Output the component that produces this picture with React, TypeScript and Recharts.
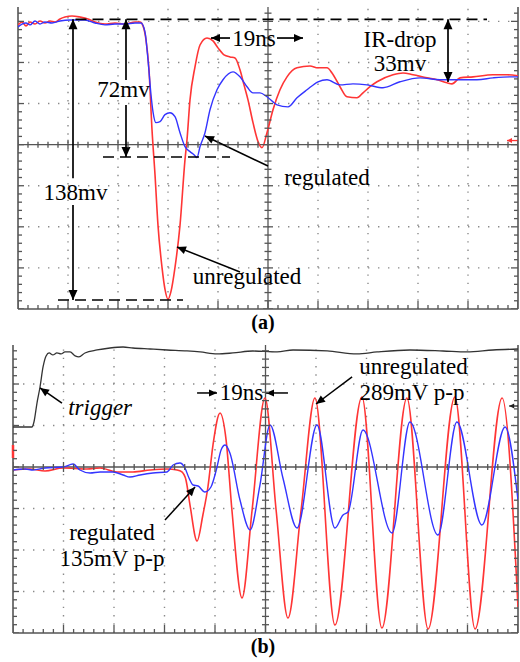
import React from 'react';
import { ComposedChart, Line, Scatter, XAxis, YAxis, ReferenceLine, ReferenceDot } from 'recharts';

// ---------- Panel (a) data: time in ns (20 ns/div), voltage in mV (20 mV/div) ----------
const unregulatedA = [
  { t: -100, v: 58.3 }, { t: -98.4, v: 59.7 }, { t: -96.8, v: 57.8 }, { t: -95.2, v: 59.7 }, { t: -93.2, v: 58.7 },
  { t: -91.2, v: 60.2 }, { t: -89.2, v: 59.2 }, { t: -87.2, v: 60.2 }, { t: -85.2, v: 59.7 }, { t: -83.2, v: 61.2 },
  { t: -81.2, v: 62.1 }, { t: -78.4, v: 62.6 }, { t: -75.2, v: 62.1 }, { t: -72, v: 61.2 }, { t: -69.2, v: 59.7 },
  { t: -65.2, v: 58.7 }, { t: -61.2, v: 59.2 }, { t: -57.2, v: 58.7 }, { t: -53.2, v: 59.7 }, { t: -51.2, v: 59.7 },
  { t: -50, v: 57.8 }, { t: -48.8, v: 51.0 }, { t: -47.6, v: 36.4 }, { t: -46.4, v: 7.3 }, { t: -45.2, v: -14.6 },
  { t: -44, v: -39.3 }, { t: -42.4, v: -59.7 }, { t: -41.2, v: -70.4 }, { t: -40, v: -75.2 }, { t: -38.8, v: -71.4 },
  { t: -37.2, v: -59.7 }, { t: -35.2, v: -39.3 }, { t: -33.2, v: -7.3 }, { t: -32.4, v: 2.4 }, { t: -31.2, v: 21.8 },
  { t: -29.2, v: 37.9 }, { t: -27.2, v: 48.5 }, { t: -24.4, v: 51.9 }, { t: -22, v: 50.5 }, { t: -20, v: 47.1 },
  { t: -17.6, v: 43.7 }, { t: -15.2, v: 42.7 }, { t: -13.2, v: 42.2 }, { t: -11.2, v: 36.4 }, { t: -9.6, v: 29.1 },
  { t: -8, v: 21.8 }, { t: -6, v: 10.7 }, { t: -4, v: 1.5 }, { t: -2.4, v: -1.5 }, { t: -0.4, v: 5.8 },
  { t: 2, v: 17.0 }, { t: 4.8, v: 26.7 }, { t: 7.6, v: 33.0 }, { t: 11.6, v: 37.4 }, { t: 16.8, v: 38.3 },
  { t: 20, v: 37.4 }, { t: 23.6, v: 37.4 }, { t: 25.6, v: 34.9 }, { t: 28.8, v: 28.2 }, { t: 31.6, v: 23.3 },
  { t: 35.6, v: 22.8 }, { t: 38, v: 25.2 }, { t: 40.8, v: 28.2 }, { t: 43.6, v: 30.6 }, { t: 50, v: 34.0 },
  { t: 54, v: 34.9 }, { t: 58, v: 34.0 }, { t: 63.6, v: 32.5 }, { t: 67.6, v: 31.6 }, { t: 71.6, v: 30.1 },
  { t: 73.6, v: 29.6 }, { t: 76.8, v: 32.5 }, { t: 82, v: 33.0 }, { t: 90, v: 34.0 }, { t: 95.6, v: 34.0 },
  { t: 100, v: 33.5 },
];

const regulatedA = [
  { t: -100, v: 57.3 }, { t: -98.4, v: 58.7 }, { t: -96.8, v: 59.2 }, { t: -95.2, v: 58.3 }, { t: -93.2, v: 60.2 },
  { t: -91.2, v: 58.7 }, { t: -89.2, v: 59.7 }, { t: -86.4, v: 59.2 }, { t: -83.2, v: 60.2 }, { t: -79.2, v: 60.7 },
  { t: -73.2, v: 60.7 }, { t: -69.2, v: 59.2 }, { t: -65.2, v: 58.3 }, { t: -61.2, v: 58.7 }, { t: -57.2, v: 58.7 },
  { t: -53.2, v: 59.2 }, { t: -50.8, v: 59.2 }, { t: -49.2, v: 54.8 }, { t: -48, v: 41.3 }, { t: -46.8, v: 24.3 },
  { t: -46, v: 16.0 }, { t: -44.8, v: 10.7 }, { t: -43.2, v: 11.2 }, { t: -41.2, v: 14.6 }, { t: -39.2, v: 15.5 },
  { t: -37.2, v: 13.6 }, { t: -35.2, v: 5.8 }, { t: -33.2, v: -1.0 }, { t: -31.2, v: -3.4 }, { t: -29.6, v: -4.9 },
  { t: -28.4, v: -6.3 }, { t: -27.2, v: -1.0 }, { t: -25.2, v: 5.8 }, { t: -23.2, v: 17.0 }, { t: -20.4, v: 26.7 },
  { t: -18, v: 31.6 }, { t: -14, v: 35.4 }, { t: -11.2, v: 33.0 }, { t: -8.4, v: 28.2 }, { t: -6, v: 25.2 },
  { t: -3.2, v: 25.2 }, { t: -0.4, v: 23.3 }, { t: 3.6, v: 19.4 }, { t: 8, v: 18.4 }, { t: 11.6, v: 22.8 },
  { t: 15.6, v: 26.7 }, { t: 20, v: 30.6 }, { t: 23.6, v: 31.6 }, { t: 28.8, v: 29.1 }, { t: 34, v: 29.6 },
  { t: 39.6, v: 29.1 }, { t: 46, v: 27.7 }, { t: 52.8, v: 30.6 }, { t: 60.8, v: 32.5 }, { t: 68.8, v: 31.6 },
  { t: 76.8, v: 31.6 }, { t: 83.6, v: 31.6 }, { t: 90, v: 32.5 }, { t: 96.8, v: 33.0 }, { t: 100, v: 33.0 },
];

// ---------- Panel (b) data: time in ns (20 ns/div), voltage in mV (50 mV/div) ----------
const triggerB = [
  { t: -100, v: 48.2 }, { t: -92.5, v: 48.2 }, { t: -91.7, v: 54.2 }, { t: -90.5, v: 77.1 }, { t: -89.3, v: 96.4 },
  { t: -88.1, v: 120.5 }, { t: -86.9, v: 133.8 }, { t: -85.7, v: 137.4 }, { t: -84.2, v: 135 }, { t: -82.6, v: 137.4 },
  { t: -81, v: 136.2 }, { t: -79.4, v: 138.6 }, { t: -77.4, v: 138.6 }, { t: -75.4, v: 133.8 }, { t: -73.9, v: 132.6 },
  { t: -71.5, v: 137.4 }, { t: -66.7, v: 141 }, { t: -61.6, v: 143.4 }, { t: -56.4, v: 144.6 }, { t: -52.5, v: 143.4 },
  { t: -45.7, v: 142.2 }, { t: -39, v: 141 }, { t: -31.1, v: 139.8 }, { t: -25.9, v: 138.6 }, { t: -19.2, v: 136.2 },
  { t: -12.9, v: 137.4 }, { t: -5, v: 139.8 }, { t: 4.6, v: 138.6 }, { t: 10.9, v: 141 }, { t: 24.4, v: 139.8 },
  { t: 36.2, v: 136.2 }, { t: 44.2, v: 138.6 }, { t: 57.2, v: 141 }, { t: 70.3, v: 139.8 }, { t: 79.8, v: 138.6 },
  { t: 90.1, v: 141 }, { t: 100, v: 142.2 },
];

const unregulatedB = [
  { t: -100, v: -3.6 }, { t: -93.3, v: -2.4 }, { t: -87.3, v: -4.8 }, { t: -80.2, v: -1.2 }, { t: -70.7, v: -2.4 },
  { t: -65.5, v: -1.2 }, { t: -58.8, v: -6.0 }, { t: -52.5, v: -6.0 }, { t: -45.7, v: -3.6 }, { t: -39, v: -2.4 },
  { t: -35, v: -3.6 }, { t: -33.1, v: -6.0 }, { t: -31.5, v: -15.7 }, { t: -29.9, v: -45.8 }, { t: -27.1, v: -89.2 },
  { t: -24.8, v: -57.8 }, { t: -22.8, v: -24.1 }, { t: -20.8, v: 26.5 }, { t: -18, v: 65.1 }, { t: -15.6, v: 32.5 },
  { t: -13.3, v: -51.8 }, { t: -9.3, v: -157.9 }, { t: -5.3, v: -51.8 }, { t: -0.2, v: 83.1 }, { t: 4.2, v: -51.8 },
  { t: 8.9, v: -182 }, { t: 14.1, v: -51.8 }, { t: 19.6, v: 83.1 }, { t: 27.5, v: -190.4 }, { t: 38.2, v: 84.4 },
  { t: 46.1, v: -194 }, { t: 56, v: 83.1 }, { t: 64.4, v: -195.2 }, { t: 75, v: 84.4 }, { t: 83, v: -195.2 },
  { t: 93.7, v: 83.1 }, { t: 100, v: -168.7 },
];

const regulatedB = [
  { t: -100, v: -3.6 }, { t: -95.2, v: -2.4 }, { t: -92.1, v: -3.6 }, { t: -87.3, v: -1.2 }, { t: -80.2, v: 0 },
  { t: -76.2, v: 3.6 }, { t: -73.5, v: -3.6 }, { t: -69.5, v: -7.2 }, { t: -65.5, v: -6.0 }, { t: -60.4, v: -6.0 },
  { t: -56.4, v: -9.6 }, { t: -53.7, v: -12.1 }, { t: -49.7, v: -9.6 }, { t: -44.6, v: -7.2 }, { t: -39, v: -6.0 },
  { t: -36.6, v: 2.4 }, { t: -33.9, v: 4.8 }, { t: -31.9, v: -1.2 }, { t: -30.3, v: -13.3 }, { t: -28.7, v: -21.7 },
  { t: -26.7, v: -22.9 }, { t: -24, v: -30.1 }, { t: -21.6, v: -24.1 }, { t: -19.2, v: 0 }, { t: -17.6, v: 20.5 },
  { t: -16, v: 26.5 }, { t: -14.1, v: 16.9 }, { t: -10.1, v: -39.8 }, { t: -6.1, v: -75.9 }, { t: -2.2, v: -21.7 },
  { t: 1.8, v: 50.6 }, { t: 6.9, v: -13.3 }, { t: 12.5, v: -73.5 }, { t: 20.4, v: 50.6 }, { t: 27.5, v: -73.5 },
  { t: 30.7, v: -57.8 }, { t: 32.7, v: -54.2 }, { t: 38.6, v: 44.6 }, { t: 50.1, v: -79.5 }, { t: 57.2, v: 54.2 },
  { t: 68.3, v: -81.9 }, { t: 75.8, v: 54.2 }, { t: 85.7, v: -69.9 }, { t: 94.9, v: 48.2 }, { t: 100, v: -39.8 },
];

// ---------- grid definitions ----------
const gridTimes = [-80, -60, -40, -20, 20, 40, 60, 80];
const gridVoltsA = [-60, -40, -20, 20, 40, 60];
const gridVoltsB = [-150, -100, -50, 50, 100];

const FONT = "'Liberation Serif','Times New Roman',Times,serif";
const RED = '#ff3535';
const BLUE = '#3434ff';
const AXIS = '#555';
const DOT = '#8a8a8a';

type Mark = { t: number; v: number; k: string; m: boolean };

function frameMarks(yMin: number, yMax: number, yMinor: number, yMajor: number): Mark[] {
  const marks: Mark[] = [];
  for (let i = 0; i <= 50; i++) {
    const t = -100 + 4 * i;
    const m = i % 5 === 0;
    marks.push({ t, v: yMin, k: 'B', m });
    marks.push({ t, v: 0, k: 'H', m });
  }
  for (let i = 0; ; i++) {
    const v = yMin + yMinor * i;
    if (v > yMax + 1e-6) break;
    const m = Math.abs(v / yMajor - Math.round(v / yMajor)) < 1e-6;
    marks.push({ t: -100, v, k: 'L', m }, { t: 100, v, k: 'R', m }, { t: 0, v, k: 'V', m });
  }
  return marks;
}

const TickMark = (p: any) => {
  const { cx, cy, payload } = p;
  if (cx == null || cy == null || !payload) return <g />;
  const big = payload.m;
  const s = { stroke: AXIS, strokeWidth: 1.3 };
  switch (payload.k) {
    case 'L':
      return <line x1={cx} y1={cy} x2={cx + (big ? 6 : 4)} y2={cy} {...s} />;
    case 'R':
      return <line x1={cx} y1={cy} x2={cx - (big ? 7 : 4)} y2={cy} {...s} />;
    case 'B':
      return <line x1={cx} y1={cy} x2={cx} y2={cy - (big ? 8 : 4)} {...s} />;
    case 'H':
      return <line x1={cx} y1={cy - (big ? 5 : 3)} x2={cx} y2={cy + (big ? 5 : 3)} {...s} />;
    default:
      return <line x1={cx - (big ? 5 : 3.5)} y1={cy} x2={cx + (big ? 5 : 3.5)} y2={cy} {...s} />;
  }
};

const headPath = (xa: number, ya: number, xb: number, yb: number, len: number, wid: number) => {
  const dx = xb - xa;
  const dy = yb - ya;
  const L = Math.hypot(dx, dy) || 1;
  const ux = dx / L;
  const uy = dy / L;
  const bx = xb - ux * len;
  const by = yb - uy * len;
  return `M${xb},${yb} L${bx - uy * wid},${by + ux * wid} L${bx + uy * wid},${by - ux * wid} Z`;
};

const arrow = (both: boolean, len = 10, wid = 4.5, color = '#000', w = 1.7) => (p: any) => {
  const { x1, y1, x2, y2 } = p;
  if ([x1, y1, x2, y2].some((n) => n == null || isNaN(n))) return <g />;
  return (
    <g>
      <line x1={x1} y1={y1} x2={x2} y2={y2} stroke={color} strokeWidth={w} />
      <path d={headPath(x1, y1, x2, y2, len, wid)} fill={color} />
      {both && <path d={headPath(x2, y2, x1, y1, len, wid)} fill={color} />}
    </g>
  );
};

const text = (s: string, italic = false, size = 23) => (p: any) => (
  <text
    x={p.cx}
    y={p.cy}
    textAnchor="middle"
    dominantBaseline="central"
    fontFamily={FONT}
    fontSize={size}
    fontStyle={italic ? 'italic' : 'normal'}
    fill="#000"
  >
    {s}
  </text>
);

function Frame(yMin: number, yMax: number, gridVolts: number[]) {
  return [
    ...gridTimes.map((t) => (
      <ReferenceLine key={'gx' + t} x={t} stroke={DOT} strokeWidth={1.4} strokeDasharray="1.4 6.9" />
    )),
    ...gridVolts.map((v) => (
      <ReferenceLine key={'gy' + v} y={v} stroke={DOT} strokeWidth={1.4} strokeDasharray="1.4 8.6" />
    )),
    <ReferenceLine key="ax0" y={0} stroke={AXIS} strokeWidth={1.3} />,
    <ReferenceLine key="ay0" x={0} stroke={AXIS} strokeWidth={1.3} />,
    <ReferenceLine key="bl" x={-100} stroke={AXIS} strokeWidth={1.6} />,
    <ReferenceLine key="br" x={100} stroke={AXIS} strokeWidth={1.6} />,
    <ReferenceLine key="bb" y={yMin} stroke={AXIS} strokeWidth={1.6} />,
  ];
}

const marksA = frameMarks(-80, 67, 4, 20);
const marksB = frameMarks(-200, 147, 10, 50);

export default function App() {
  return (
    <div style={{ position: 'absolute', left: 0, top: 0, width: 520, height: 662, background: '#fff', overflow: 'hidden' }}>
      <div style={{ position: 'absolute', left: 0, top: 0 }}>
        <ComposedChart width={520} height={318} margin={{ top: 7, right: 2, bottom: 9, left: 18 }}>
          <XAxis type="number" dataKey="t" domain={[-100, 100]} allowDataOverflow hide />
          <YAxis type="number" dataKey="v" domain={[-80, 67]} allowDataOverflow hide />
          {Frame(-80, 67, gridVoltsA)}
          <Scatter data={marksA} dataKey="v" shape={TickMark} isAnimationActive={false} />
          <Line data={unregulatedA} dataKey="v" type="monotone" stroke={RED} strokeWidth={1.6} dot={false} isAnimationActive={false} />
          <Line data={regulatedA} dataKey="v" type="monotone" stroke={BLUE} strokeWidth={1.4} dot={false} isAnimationActive={false} />
          {/* dashed reference levels */}
          <ReferenceLine segment={[{ x: -77, y: 61 }, { x: 87.6, y: 61 }]} stroke="#000" strokeWidth={1.6} strokeDasharray="11 6" />
          <ReferenceLine segment={[{ x: -84, y: -75.6 }, { x: -34, y: -75.6 }]} stroke="#000" strokeWidth={1.6} strokeDasharray="11 6" />
          <ReferenceLine segment={[{ x: -66, y: -6 }, { x: -15.2, y: -6 }]} stroke="#000" strokeWidth={1.6} strokeDasharray="11 6" />
          {/* arrows */}
          <ReferenceLine segment={[{ x: -78, y: -16.3 }, { x: -78, y: 61 }]} shape={arrow(false)} />
          <ReferenceLine segment={[{ x: -78, y: -29.4 }, { x: -78, y: -75.6 }]} shape={arrow(false)} />
          <ReferenceLine segment={[{ x: -56.8, y: 31.5 }, { x: -56.8, y: 61 }]} shape={arrow(false)} />
          <ReferenceLine segment={[{ x: -56.8, y: 19.3 }, { x: -56.8, y: -6 }]} shape={arrow(false)} />
          <ReferenceLine segment={[{ x: -15.2, y: 51.9 }, { x: -22.8, y: 51.9 }]} shape={arrow(false, 9, 4)} />
          <ReferenceLine segment={[{ x: 3.6, y: 51.9 }, { x: 14, y: 51.9 }]} shape={arrow(false, 9, 4)} />
          <ReferenceLine segment={[{ x: 72, y: 30.5 }, { x: 72, y: 61 }]} shape={arrow(true)} />
          <ReferenceLine segment={[{ x: 0, y: -10.4 }, { x: -25.2, y: 4.2 }]} shape={arrow(false, 9, 4, '#000', 1.5)} />
          <ReferenceLine segment={[{ x: -11.2, y: -62 }, { x: -36.4, y: -49.8 }]} shape={arrow(false, 9, 4, '#000', 1.5)} />
          <ReferenceLine segment={[{ x: 100, y: 2 }, { x: 95.6, y: 2 }]} shape={arrow(false, 5, 2.5, RED, 1.3)} />
          {/* labels */}
          <ReferenceDot x={-77} y={-23.5} shape={text('138mv')} />
          <ReferenceDot x={-57.8} y={26.6} shape={text('72mv')} />
          <ReferenceDot x={-5.6} y={51.9} shape={text('19ns')} />
          <ReferenceDot x={52.8} y={51.4} shape={text('IR-drop')} />
          <ReferenceDot x={52.8} y={39.7} shape={text('33mv')} />
          <ReferenceDot x={23.6} y={-15.8} shape={text('regulated')} />
          <ReferenceDot x={-8.4} y={-64} shape={text('unregulated')} />
        </ComposedChart>
      </div>
      <div style={{ position: 'absolute', left: 3, top: 311, width: 520, textAlign: 'center', fontFamily: FONT, fontWeight: 'bold', fontSize: 20 }}>
        (a)
      </div>
      <div style={{ position: 'absolute', left: 0, top: 336 }}>
        <ComposedChart width={520} height={310} margin={{ top: 9, right: 2, bottom: 13, left: 13 }}>
          <XAxis type="number" dataKey="t" domain={[-100, 100]} allowDataOverflow hide />
          <YAxis type="number" dataKey="v" domain={[-200, 147]} allowDataOverflow hide />
          {Frame(-200, 147, gridVoltsB)}
          <Scatter data={marksB} dataKey="v" shape={TickMark} isAnimationActive={false} />
          <Line data={triggerB} dataKey="v" type="monotone" stroke="#333" strokeWidth={1.3} dot={false} isAnimationActive={false} />
          <Line data={unregulatedB} dataKey="v" type="monotone" stroke={RED} strokeWidth={1.6} dot={false} isAnimationActive={false} />
          <Line data={regulatedB} dataKey="v" type="monotone" stroke={BLUE} strokeWidth={1.4} dot={false} isAnimationActive={false} />
          {/* arrows */}
          <ReferenceLine segment={[{ x: -80.6, y: 77.1 }, { x: -89.3, y: 95.2 }]} shape={arrow(false, 9, 4, '#000', 1.5)} />
          <ReferenceLine segment={[{ x: -27.1, y: 89.2 }, { x: -19.2, y: 89.2 }]} shape={arrow(false, 8, 3.5, '#000', 1.5)} />
          <ReferenceLine segment={[{ x: 8.9, y: 89.2 }, { x: 0.2, y: 89.2 }]} shape={arrow(false, 8, 3.5, '#000', 1.5)} />
          <ReferenceLine segment={[{ x: 34.3, y: 108.5 }, { x: 20, y: 75.9 }]} shape={arrow(false, 9, 4, '#000', 1.5)} />
          <ReferenceLine segment={[{ x: -39.8, y: -63.9 }, { x: -27.9, y: -24.1 }]} shape={arrow(false, 9, 4, '#000', 1.5)} />
          <ReferenceLine segment={[{ x: -100, y: 26.5 }, { x: -100, y: 10.8 }]} stroke={RED} strokeWidth={2.5} />
          <ReferenceLine segment={[{ x: 100, y: 73.5 }, { x: 96.5, y: 73.5 }]} shape={arrow(false, 5, 2.5, '#222', 1.3)} />
          {/* labels */}
          <ReferenceDot x={-65.5} y={71.1} shape={text('trigger', true)} />
          <ReferenceDot x={-9.5} y={89.2} shape={text('19ns')} />
          <ReferenceDot x={58.6} y={120.5} shape={text('unregulated')} />
          <ReferenceDot x={58} y={89.2} shape={text('289mV p-p')} />
          <ReferenceDot x={-60.8} y={-79.5} shape={text('regulated')} />
          <ReferenceDot x={-60.8} y={-109.7} shape={text('135mV p-p')} />
        </ComposedChart>
      </div>
      <div style={{ position: 'absolute', left: 3, top: 635, width: 520, textAlign: 'center', fontFamily: FONT, fontWeight: 'bold', fontSize: 20 }}>
        (b)
      </div>
    </div>
  );
}
